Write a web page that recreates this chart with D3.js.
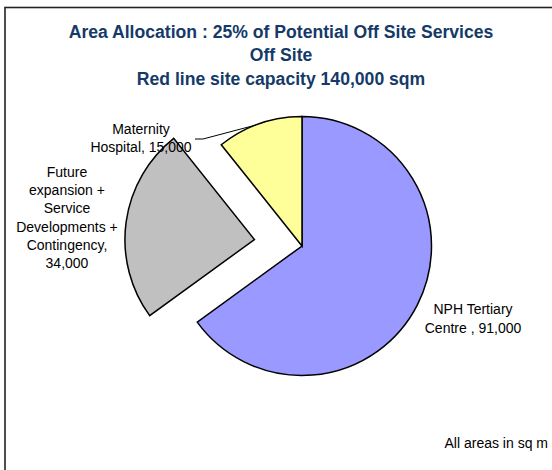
<!DOCTYPE html>
<html>
<head>
<meta charset="utf-8">
<script src="https://cdn.jsdelivr.net/npm/d3@7"></script>
<style>
  html, body { margin: 0; padding: 0; background: #fff; }
  svg { display: block; font-family: "Liberation Sans", Arial, sans-serif; }
</style>
</head>
<body>
<svg id="chart" width="552" height="470"></svg>
<script>
const titleLines = [
  "Area Allocation : 25% of Potential Off Site Services",
  "Off Site",
  "Red line site capacity 140,000 sqm"
];
const categories = [
  "NPH Tertiary Centre",
  "Future expansion + Service Developments + Contingency",
  "Maternity Hospital"
];
const values = [91000, 34000, 15000];
const labelLines = [
  ["NPH Tertiary", "Centre , 91,000"],
  ["Future", "expansion +", "Service", "Developments +", "Contingency,", "34,000"],
  ["Maternity", "Hospital, 15,000"]
];
const colors = ["#9999FF", "#C0C0C0", "#FFFF99"];
const explode = [0, 48, 0];
const footnote = "All areas in sq m";

const svg = d3.select("#chart");
const W = 552, H = 470;

// frame (only top & left visible)
svg.append("rect")
  .attr("x", 5).attr("y", 7.5).attr("width", 700).attr("height", 700)
  .attr("fill", "none").attr("stroke", "#222").attr("stroke-width", 1.6);

// title
const title = svg.append("text")
  .attr("text-anchor", "middle")
  .attr("font-weight", "bold")
  .attr("font-size", 17.6)
  .attr("fill", "#153A68");
titleLines.forEach((t, i) => {
  title.append("tspan").attr("x", 281).attr("y", 37.5 + i * 23.8).text(t);
});

// pie
const cx = 302, cy = 246, r = 129.5;
const pie = d3.pie().sort(null).value(d => d)(values);
const arc = d3.arc().innerRadius(0).outerRadius(r);
const g = svg.append("g").attr("transform", `translate(${cx},${cy})`);

g.selectAll("path.slice")
  .data(pie)
  .join("path")
  .attr("class", "slice")
  .attr("d", arc)
  .attr("fill", (d, i) => colors[i])
  .attr("stroke", "#000")
  .attr("stroke-width", 1.5)
  .attr("stroke-linejoin", "miter")
  .attr("transform", (d, i) => {
    const mid = (d.startAngle + d.endAngle) / 2;
    return `translate(${Math.sin(mid) * explode[i]},${-Math.cos(mid) * explode[i]})`;
  });

// labels
const labelPos = [
  { x: 473, y: 314, lh: 19 },
  { x: 67, y: 176.7, lh: 18.3 },
  { x: 141, y: 134, lh: 17.8 }
];
labelLines.forEach((lines, i) => {
  const t = svg.append("text")
    .attr("text-anchor", "middle")
    .attr("font-size", 14)
    .attr("fill", "#000");
  lines.forEach((l, j) => {
    t.append("tspan").attr("x", labelPos[i].x).attr("y", labelPos[i].y + j * labelPos[i].lh).text(l);
  });
});

// leader line for Maternity
{
  const d = pie[2];
  const ang = (d.startAngle + d.endAngle) / 2 - 0.03;
  const ex = cx + Math.sin(ang) * r, ey = cy - Math.cos(ang) * r;
  svg.append("path")
    .attr("d", d3.line()([[195, 139], [203, 139], [ex, ey]]))
    .attr("fill", "none").attr("stroke", "#000").attr("stroke-width", 1);
}

// footnote
svg.append("text")
  .attr("x", 548).attr("y", 448)
  .attr("text-anchor", "end")
  .attr("font-size", 14)
  .attr("fill", "#000")
  .text(footnote);
</script>
</body>
</html>
